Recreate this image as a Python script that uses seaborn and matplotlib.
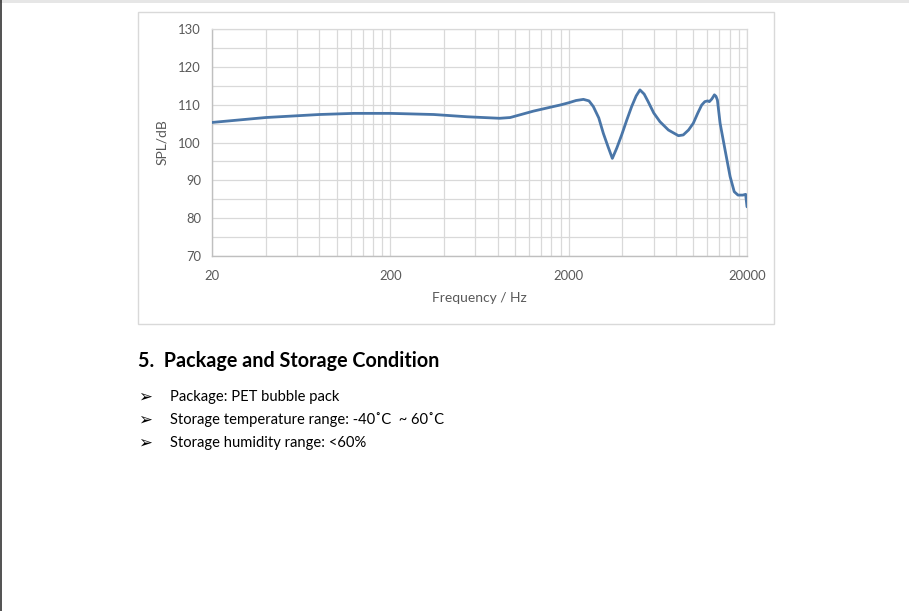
import numpy as np
import pandas as pd
import matplotlib
matplotlib.use("Agg")
import matplotlib.pyplot as plt
import seaborn as sns
from matplotlib.ticker import FixedLocator, NullFormatter, FixedFormatter
from matplotlib.patches import Rectangle
from matplotlib.lines import Line2D

# ---- data ----
freq_hz = [20, 40, 80, 125, 200, 350, 540, 820, 940, 1270, 1640, 1790, 2000, 2200,
           2420, 2600, 2750, 2950, 3130, 3330, 3515, 3720, 3965, 4240, 4510, 4780,
           5020, 5300, 5580, 6000, 6500, 7250, 8250, 8780, 9400, 10000, 10600, 11140,
           11600, 12030, 12300, 12700, 13130, 13400, 13650, 14130, 15070, 16080,
           16960, 17800, 18950, 19650, 20000]
spl_db = [105.3, 106.6, 107.4, 107.7, 107.7, 107.4, 106.8, 106.4, 106.6, 108.3, 109.5,
          109.9, 110.5, 111.1, 111.4, 111.0, 109.5, 106.5, 102.4, 98.8, 95.8, 98.5,
          102.0, 106.0, 109.5, 112.3, 113.9, 112.8, 110.8, 107.8, 105.5, 103.3, 101.8,
          102.0, 103.3, 105.1, 107.8, 109.9, 110.8, 111.0, 110.8, 111.5, 112.6, 112.2,
          111.2, 105.1, 98.0, 91.0, 87.0, 86.1, 86.1, 86.3, 83.0]
x_major_ticks = [20, 200, 2000, 20000]
x_tick_labels = ["20", "200", "2000", "20000"]
y_ticks = [70, 80, 90, 100, 110, 120, 130]
heading = "5.  Package and Storage Condition"
bullets = ["Package: PET bubble pack",
           "Storage temperature range: -40˚C  ~ 60˚C",
           "Storage humidity range: <60%"]

df = pd.DataFrame({"Frequency": freq_hz, "SPL": spl_db})

sns.set_theme(style="white")
plt.rcParams["font.family"] = ["Lato", "DejaVu Sans"]

W, H = 909, 611
fig = plt.figure(figsize=(W / 100, H / 100), dpi=100)
fig.patch.set_facecolor("white")

def fx(px):
    return px / W

def fy(py):
    return 1 - py / H

# page decorations
fig.add_artist(Rectangle((0, fy(3)), 1, 3 / H, transform=fig.transFigure,
                         facecolor="#e6e6e6", edgecolor="none", zorder=0))
fig.add_artist(Line2D([fx(0.8), fx(0.8)], [0, 1], transform=fig.transFigure,
                      color="#333333", lw=1.2))
# chart frame
fig.add_artist(Rectangle((fx(138), fy(324)), (774 - 138) / W, (324 - 12) / H,
                         transform=fig.transFigure, facecolor="white",
                         edgecolor="#d9d9d9", lw=1.0, zorder=0))

ax = fig.add_axes([fx(212), fy(256), (747 - 212) / W, (256 - 29) / H])
ax.set_facecolor("white")
sns.lineplot(data=df, x="Frequency", y="SPL", ax=ax, color="#4a76a8",
             linewidth=2.0, zorder=5)
ax.set_xscale("log")
ax.set_xlim(20, 20000)
ax.set_ylim(70, 130)

minor = [20 * k * 10 ** n for n in range(3) for k in range(2, 10)]
ax.xaxis.set_major_locator(FixedLocator(x_major_ticks))
ax.xaxis.set_major_formatter(FixedFormatter(x_tick_labels))
ax.xaxis.set_minor_locator(FixedLocator(minor))
ax.xaxis.set_minor_formatter(NullFormatter())
ax.yaxis.set_major_locator(FixedLocator(y_ticks))
ax.yaxis.set_minor_locator(FixedLocator(list(range(75, 130, 10))))

ax.grid(True, which="both", color="#d9d9d9", lw=0.9)
ax.set_axisbelow(True)
ax.tick_params(which="both", length=0, colors="#595959", labelsize=9.4)
ax.tick_params(axis="x", pad=10)
ax.tick_params(axis="y", pad=8)
for s in ["top", "right"]:
    ax.spines[s].set_color("#d9d9d9")
    ax.spines[s].set_linewidth(0.9)
for s in ["left", "bottom"]:
    ax.spines[s].set_color("#bfbfbf")
    ax.spines[s].set_linewidth(1.0)

ax.set_xlabel("Frequency / Hz", fontsize=10, color="#595959", labelpad=7)
ax.set_ylabel("SPL/dB", fontsize=10, color="#595959", labelpad=7)

# document text below the chart
fig.text(fx(138), fy(361), heading, fontsize=14.2, fontweight="bold",
         color="black", va="center", ha="left")
for i, b in enumerate(bullets):
    yy = [397, 420, 443][i]
    fig.text(fx(138), fy(yy), "➢", fontsize=12, color="black", va="center",
             ha="left", family=["DejaVu Sans"])
    fig.text(fx(170), fy(yy), b, fontsize=10.6, color="black", va="center", ha="left")

fig.savefig("out.png", dpi=100)
